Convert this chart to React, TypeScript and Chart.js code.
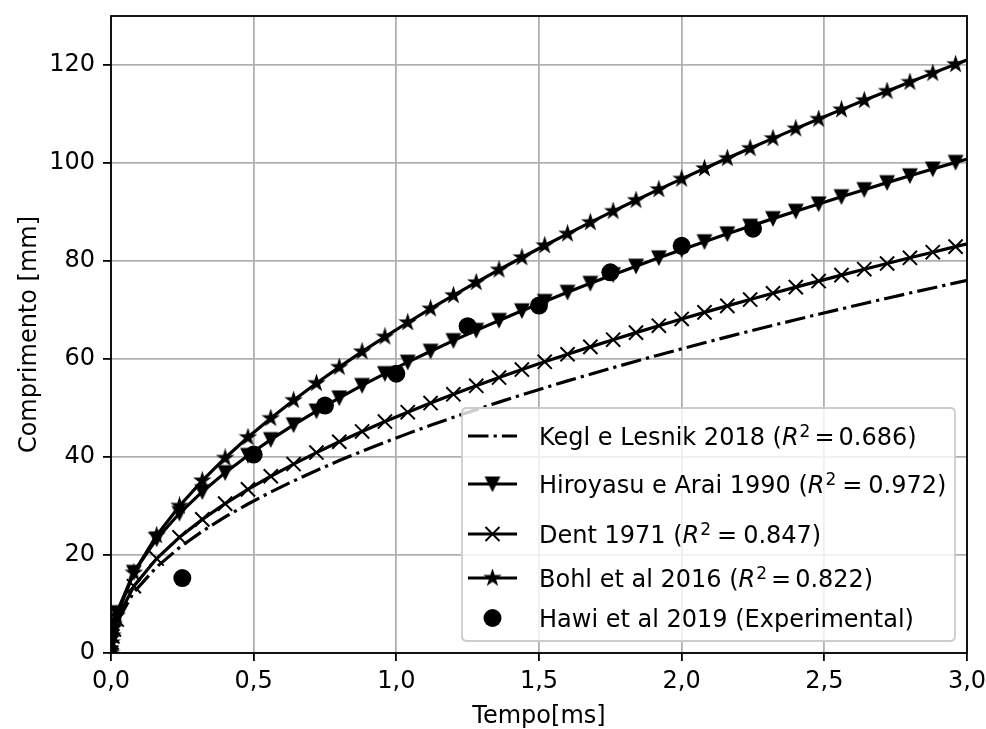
import React, { useEffect, useRef } from 'react';
import { Chart, registerables } from 'chart.js';

Chart.register(...registerables);

// ---- data ----
const time = [
  0, 0.002, 0.005, 0.01, 0.02, 0.08, 0.16, 0.24, 0.32, 0.4, 0.48, 0.56, 0.64, 0.72, 0.8, 0.88, 0.96,
  1.04, 1.12, 1.2, 1.28, 1.36, 1.44, 1.52, 1.6, 1.68, 1.76, 1.84, 1.92, 2.0, 2.08, 2.16, 2.24, 2.32,
  2.4, 2.48, 2.56, 2.64, 2.72, 2.8, 2.88, 2.96, 3.04,
];
const keglLesnik = [
  0, 1.96, 3.1, 4.39, 6.21, 12.42, 17.56, 21.51, 24.83, 27.76, 30.41, 32.85, 35.12, 37.25, 39.27, 41.18,
  43.01, 44.77, 46.46, 48.09, 49.67, 51.2, 52.68, 54.12, 55.53, 56.9, 58.24, 59.55, 60.83, 62.08, 63.31,
  64.52, 65.7, 66.87, 68.01, 69.13, 70.24, 71.33, 72.4, 73.46, 74.5, 75.53, 76.54,
];
const hiroyasuArai = [
  0, 2.6, 4.12, 5.82, 8.23, 16.46, 23.28, 28.51, 32.92, 36.81, 40.32, 43.55, 46.56, 49.38, 52.06, 54.6,
  57.02, 59.35, 61.59, 63.75, 65.85, 67.87, 69.84, 71.75, 73.62, 75.44, 77.21, 78.95, 80.64, 82.31, 83.94,
  85.54, 87.11, 88.65, 90.16, 91.65, 93.12, 94.56, 95.99, 97.39, 98.77, 100.13, 101.48,
];
const dent = [
  0, 2.16, 3.41, 4.82, 6.82, 13.63, 19.28, 23.61, 27.27, 30.48, 33.39, 36.07, 38.56, 40.9, 43.11, 45.22,
  47.23, 49.15, 51.01, 52.8, 54.53, 56.21, 57.84, 59.42, 60.97, 62.47, 63.94, 65.38, 66.79, 68.17, 69.52,
  70.84, 72.14, 73.42, 74.67, 75.9, 77.12, 78.32, 79.49, 80.65, 81.8, 82.93, 84.04,
];
const bohl = [
  0, 2.14, 3.54, 5.19, 7.62, 16.37, 24.0, 30.02, 35.19, 39.8, 44.02, 47.92, 51.59, 55.06, 58.35, 61.51,
  64.53, 67.45, 70.26, 72.99, 75.63, 78.21, 80.72, 83.16, 85.55, 87.89, 90.17, 92.41, 94.61, 96.76, 98.88,
  100.96, 103.01, 105.03, 107.01, 108.97, 110.89, 112.79, 114.66, 116.51, 118.34, 120.14, 121.93,
];
const expTime = [0.25, 0.5, 0.75, 1.0, 1.25, 1.5, 1.75, 2.0, 2.25];
const expLength = [15.3, 40.5, 50.5, 57.0, 66.7, 70.9, 77.7, 83.1, 86.6];

const xTicks = [0, 0.5, 1.0, 1.5, 2.0, 2.5, 3.0];
const yTicks = [0, 20, 40, 60, 80, 100, 120];
const xLabel = 'Tempo[ms]';
const yLabel = 'Comprimento [mm]';
const seriesNames = ['Kegl e Lesnik 2018', 'Hiroyasu e Arai 1990', 'Dent 1971', 'Bohl et al 2016', 'Hawi et al 2019 (Experimental)'];
const r2Values = ['0.686', '0.972', '0.847', '0.822'];

const FONT = '"DejaVu Sans", Verdana, sans-serif';
const DASHDOT = [20.5, 5.1, 3.2, 5.1];

function makeCanvas(size: number) {
  const c = document.createElement('canvas');
  c.width = size;
  c.height = size;
  return c;
}

function starMarker(R: number) {
  const s = Math.ceil(2 * R + 4);
  const c = makeCanvas(s);
  const ctx = c.getContext('2d')!;
  const cx = s / 2;
  ctx.beginPath();
  for (let i = 0; i < 10; i++) {
    const a = -Math.PI / 2 + (i * Math.PI) / 5;
    const r = i % 2 === 0 ? R : R * 0.381966;
    const px = cx + r * Math.cos(a);
    const py = cx + r * Math.sin(a);
    if (i === 0) ctx.moveTo(px, py);
    else ctx.lineTo(px, py);
  }
  ctx.closePath();
  ctx.fillStyle = '#000';
  ctx.fill();
  ctx.lineWidth = 1.4;
  ctx.strokeStyle = '#000';
  ctx.stroke();
  return c;
}

function triDownMarker(w: number) {
  const s = Math.ceil(w + 4);
  const c = makeCanvas(s);
  const ctx = c.getContext('2d')!;
  const cx = s / 2;
  ctx.beginPath();
  ctx.moveTo(cx, cx + w / 2);
  ctx.lineTo(cx - w / 2, cx - w / 2);
  ctx.lineTo(cx + w / 2, cx - w / 2);
  ctx.closePath();
  ctx.fillStyle = '#000';
  ctx.fill();
  ctx.lineWidth = 1.4;
  ctx.strokeStyle = '#000';
  ctx.stroke();
  return c;
}

function pts(xs: number[], ys: number[]) {
  return xs.map((x, i) => ({ x, y: ys[i] }));
}

function noAutoPadding(s: any) {
  s.paddingLeft = 0;
  s.paddingRight = 0;
  s.paddingTop = 0;
  s.paddingBottom = 0;
}

export default function App() {
  const ref = useRef<HTMLCanvasElement | null>(null);

  useEffect(() => {
    const canvas = ref.current;
    if (!canvas) return;
    const star = starMarker(7.5);
    const tri = triDownMarker(13.5);

    const framePlugin = {
      id: 'frame',
      afterDatasetsDraw(chart: any) {
        const { ctx, chartArea: a } = chart;
        ctx.save();
        ctx.strokeStyle = '#000';
        ctx.lineWidth = 1.8;
        ctx.strokeRect(a.left, a.top, a.right - a.left, a.bottom - a.top);
        ctx.restore();
      },
    };

    const legendPlugin = {
      id: 'mplLegend',
      afterDraw(chart: any) {
        const { ctx, chartArea: a } = chart;
        const right = a.right - 12;
        const bottom = a.bottom - 12;
        const left = right - 493;
        const top = bottom - 233;
        ctx.save();
        const r = 5;
        ctx.beginPath();
        ctx.moveTo(left + r, top);
        ctx.lineTo(right - r, top);
        ctx.quadraticCurveTo(right, top, right, top + r);
        ctx.lineTo(right, bottom - r);
        ctx.quadraticCurveTo(right, bottom, right - r, bottom);
        ctx.lineTo(left + r, bottom);
        ctx.quadraticCurveTo(left, bottom, left, bottom - r);
        ctx.lineTo(left, top + r);
        ctx.quadraticCurveTo(left, top, left + r, top);
        ctx.closePath();
        ctx.fillStyle = 'rgba(255,255,255,0.8)';
        ctx.fill();
        ctx.strokeStyle = '#cccccc';
        ctx.lineWidth = 1.8;
        ctx.stroke();

        const baselines = [37, 85, 135, 179, 219];
        const spaced = [false, true, true, false];
        const hx0 = left + 6;
        const hx1 = left + 55;
        const hxc = (hx0 + hx1) / 2;
        const tx = left + 77;
        ctx.fillStyle = '#000';
        ctx.textBaseline = 'alphabetic';
        ctx.textAlign = 'left';

        baselines.forEach((b, i) => {
          const y = top + b;
          const hy = y - 9;
          ctx.strokeStyle = '#000';
          ctx.lineWidth = 3.2;
          ctx.lineCap = 'butt';
          if (i === 0) {
            ctx.setLineDash(DASHDOT);
            ctx.beginPath();
            ctx.moveTo(hx0, hy);
            ctx.lineTo(hx1, hy);
            ctx.stroke();
            ctx.setLineDash([]);
          } else if (i < 4) {
            ctx.beginPath();
            ctx.moveTo(hx0, hy);
            ctx.lineTo(hx1, hy);
            ctx.stroke();
            if (i === 1) ctx.drawImage(tri, hxc - tri.width / 2, hy - tri.height / 2);
            if (i === 3) ctx.drawImage(star, hxc - star.width / 2, hy - star.height / 2);
            if (i === 2) {
              const d = 7;
              ctx.lineWidth = 2;
              ctx.beginPath();
              ctx.moveTo(hxc - d, hy - d);
              ctx.lineTo(hxc + d, hy + d);
              ctx.moveTo(hxc - d, hy + d);
              ctx.lineTo(hxc + d, hy - d);
              ctx.stroke();
            }
          } else {
            ctx.beginPath();
            ctx.arc(hxc, hy, 9, 0, Math.PI * 2);
            ctx.fill();
          }
          let x = tx;
          ctx.font = `24px ${FONT}`;
          if (i < 4) {
            const pre = seriesNames[i] + ' (';
            ctx.fillText(pre, x, y);
            x += ctx.measureText(pre).width;
            ctx.font = `italic 24px ${FONT}`;
            ctx.fillText('R', x, y);
            x += ctx.measureText('R').width;
            ctx.font = `17px ${FONT}`;
            ctx.fillText('2', x + 1, y - 8);
            x += ctx.measureText('2').width + 1;
            x += spaced[i] ? 6 : 4;
            ctx.font = `24px ${FONT}`;
            ctx.fillText('=', x, y);
            x += ctx.measureText('=').width;
            x += spaced[i] ? 6 : 4;
            ctx.fillText(r2Values[i] + ')', x, y);
          } else {
            ctx.fillText(seriesNames[i], x, y);
          }
        });
        ctx.restore();
      },
    };

    const tickFont = { family: FONT, size: 24 };

    const chart = new Chart(canvas, {
      type: 'line',
      data: {
        datasets: [
          {
            label: seriesNames[0],
            data: pts(time, keglLesnik),
            borderColor: '#000',
            borderWidth: 3.2,
            borderDash: DASHDOT,
            pointRadius: 0,
            tension: 0,
            fill: false,
            clip: 0,
            order: 4,
          },
          {
            label: seriesNames[1],
            data: pts(time, hiroyasuArai),
            borderColor: '#000',
            borderWidth: 3.2,
            pointStyle: tri,
            pointRadius: 7,
            tension: 0,
            fill: false,
            clip: 0,
            order: 3,
          },
          {
            label: seriesNames[2],
            data: pts(time, dent),
            borderColor: '#000',
            borderWidth: 3.2,
            pointStyle: 'crossRot',
            pointRadius: 10,
            pointBorderWidth: 2,
            pointBorderColor: '#000',
            pointBackgroundColor: '#000',
            tension: 0,
            fill: false,
            clip: 0,
            order: 2,
          },
          {
            label: seriesNames[3],
            data: pts(time, bohl),
            borderColor: '#000',
            borderWidth: 3.2,
            pointStyle: star,
            pointRadius: 7,
            tension: 0,
            fill: false,
            clip: 0,
            order: 1,
          },
          {
            label: seriesNames[4],
            data: pts(expTime, expLength),
            showLine: false,
            pointStyle: 'circle',
            pointRadius: 9,
            pointBorderWidth: 0,
            pointBackgroundColor: '#000',
            pointBorderColor: '#000',
            clip: 0,
            order: 0,
          },
        ] as any,
      },
      options: {
        animation: false,
        responsive: false,
        maintainAspectRatio: false,
        events: [],
        layout: { padding: { top: 16, right: 19, left: 0, bottom: 0 } },
        plugins: { legend: { display: false }, tooltip: { enabled: false } },
        scales: {
          x: {
            type: 'linear',
            min: 0,
            max: 3,
            afterBuildTicks: (s: any) => {
              s.ticks = xTicks.map((v) => ({ value: v }));
            },
            afterFit: (s: any) => {
              s.height = 76;
              noAutoPadding(s);
            },
            grid: {
              color: '#b0b0b0',
              lineWidth: 1.8,
              tickLength: 8,
              tickColor: '#000',
              tickWidth: 1.8,
            },
            border: { display: false },
            ticks: {
              color: '#000',
              font: tickFont,
              padding: 6,
              maxRotation: 0,
              autoSkip: false,
              callback: (v: any) => Number(v).toFixed(1).replace('.', ','),
            },
            title: {
              display: true,
              text: xLabel,
              color: '#000',
              font: tickFont,
              padding: { top: 0, bottom: -2 },
            },
          },
          y: {
            type: 'linear',
            min: 0,
            max: 130,
            afterBuildTicks: (s: any) => {
              s.ticks = yTicks.map((v) => ({ value: v }));
            },
            afterFit: (s: any) => {
              s.width = 111;
              noAutoPadding(s);
            },
            grid: {
              color: '#b0b0b0',
              lineWidth: 1.8,
              tickLength: 8,
              tickColor: '#000',
              tickWidth: 1.8,
            },
            border: { display: false },
            ticks: {
              color: '#000',
              font: tickFont,
              padding: 8,
              autoSkip: false,
              callback: (v: any) => String(v),
            },
            title: {
              display: true,
              text: yLabel,
              color: '#000',
              font: tickFont,
              padding: { top: 15, bottom: 0 },
            },
          },
        },
      } as any,
      plugins: [framePlugin, legendPlugin],
    });

    return () => chart.destroy();
  }, []);

  return (
    <div style={{ position: 'fixed', left: 0, top: 0, width: 986, height: 729, background: '#fff' }}>
      <canvas ref={ref} width={986} height={729} style={{ display: 'block', width: 986, height: 729 }} />
    </div>
  );
}
